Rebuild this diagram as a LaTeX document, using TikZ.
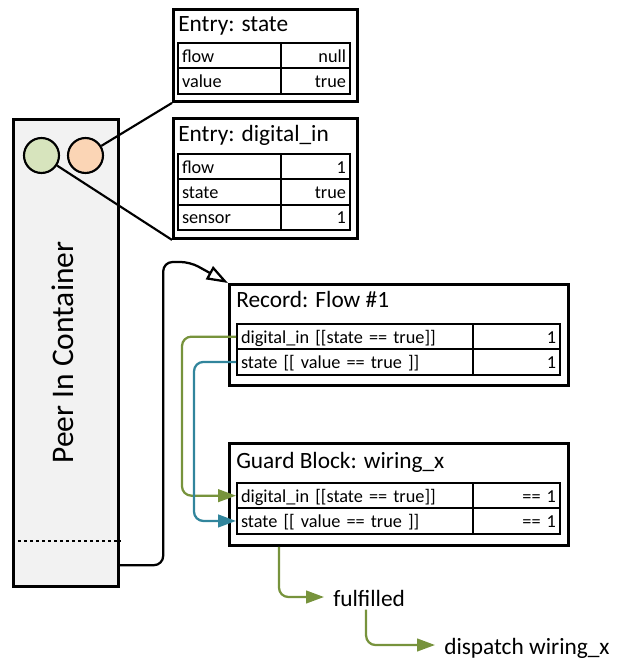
\documentclass[tikz,border=0pt]{standalone}
\usepackage{fontspec}
\setmainfont{Carlito}
\usetikzlibrary{arrows.meta,calc}
\definecolor{garr}{HTML}{77933C}
\definecolor{barr}{HTML}{31859C}
\definecolor{gcirc}{HTML}{D7E4BD}
\definecolor{ocirc}{HTML}{FBD5B5}
\definecolor{peerfill}{HTML}{F2F2F2}
\newcommand{\ttlfont}{\fontsize{17.5}{20}\selectfont}
\newcommand{\tblfont}{\fontsize{13.7}{15}\selectfont}
\begin{document}
\begin{tikzpicture}[x=0.75pt,y=-0.75pt,
  outerbox/.style={draw, line width=2.2pt, anchor=north west, inner sep=0pt},
  ttl/.style={anchor=base west, inner sep=0pt, font=\ttlfont},
  cellbase/.style={draw, line width=1.5pt, anchor=north west, minimum height=19pt, inner xsep=3pt, inner ysep=0pt, text height=11.5pt, text depth=1.75pt, font=\tblfont},
  skey/.style={cellbase, text width=71.25pt, align=left},
  sval/.style={cellbase, text width=45.75pt, align=right},
  bkey/.style={cellbase, text width=171pt, align=left},
  bval/.style={cellbase, text width=59.25pt, align=right},
  dot/.style={circle, draw, line width=1.6pt, minimum size=26.25pt, inner sep=0pt},
  lbl/.style={anchor=west, inner xsep=6.75pt, inner ysep=1pt, text height=15pt, text depth=1.5pt, font=\ttlfont},
  garrow/.style={draw=garr, line width=1.7pt, rounded corners=7pt, -{Triangle[length=13.5pt,width=9.5pt]}},
  barrow/.style={draw=barr, line width=1.7pt, rounded corners=7pt, -{Triangle[length=13.5pt,width=9.5pt]}}
]
\useasboundingbox (0,0) rectangle (624,666);

% Peer container
\node[outerbox, line width=2.4pt, fill=peerfill, minimum width=78.75pt, minimum height=350.25pt] (peer) at (12,118) {};
\draw[line width=1.5pt, dash pattern=on 2.5pt off 2pt] (peer.west |- 0,541) -- (peer.east |- 0,541);
\node[rotate=90, anchor=base, font=\fontsize{23.6}{26}\selectfont, inner sep=0pt] (peertxt) at (73,352.5) {Peer In Container};
\node[dot, fill=gcirc] (gc) at (41.5,155.5) {};
\node[dot, fill=ocirc] (oc) at (85.5,155.5) {};

% Entry: state
\node[outerbox, minimum width=138pt, minimum height=69pt] (estate) at (172,8) {};
\node[ttl] (estatet) at (178,32) {Entry: state};
\node[skey] (es1k) at (177,42) {flow};
\node[sval] (es1v) at (280,42) {null};
\node[skey] (es2k) at (177,67.3) {value};
\node[sval] (es2v) at (280,67.3) {true};

% Entry: digital_in
\node[outerbox, minimum width=138pt, minimum height=90pt] (edig) at (172,117) {};
\node[ttl] (edigt) at (178,142) {Entry: digital\_in};
\node[skey] (ed1k) at (177,153) {flow};
\node[sval] (ed1v) at (280,153) {1};
\node[skey] (ed2k) at (177,178.3) {state};
\node[sval] (ed2v) at (280,178.3) {true};
\node[skey] (ed3k) at (177,203.6) {sensor};
\node[sval] (ed3v) at (280,203.6) {1};

\draw[line width=1.6pt] (oc) -- (estate.south west);
\draw[line width=1.6pt] (gc) -- (edig.south west);

% Record: Flow #1
\node[outerbox, minimum width=254.25pt, minimum height=75.75pt] (record) at (228,283) {};
\node[ttl] (recordt) at (236,307) {Record: Flow \#1};
\node[bkey] (r1k) at (236,323) {digital\_in [[state == true]]};
\node[bval] (r1v) at (472,323) {1};
\node[bkey] (r2k) at (236,348.3) {state [[ value == true ]]};
\node[bval] (r2v) at (472,348.3) {1};

% Guard Block
\node[outerbox, minimum width=254.25pt, minimum height=76.5pt] (guard) at (228,442) {};
\node[ttl] (guardt) at (236,468) {Guard Block: wiring\_x};
\node[bkey] (g1k) at (236,482) {digital\_in [[state == true]]};
\node[bval] (g1v) at (472,482) {== 1};
\node[bkey] (g2k) at (236,507.3) {state [[ value == true ]]};
\node[bval] (g2v) at (472,507.3) {== 1};

% Labels
\node[lbl] (ful) at (324,597) {fulfilled};
\node[lbl] (disp) at (435,645) {dispatch wiring\_x};

% Connectors
\draw[line width=1.7pt, rounded corners=7pt, -{Triangle[open,length=16pt,width=11pt]}]
  ($(peer.south east)+(0,-23)$) -- ++(43,0) |- ($(record.north west)+(-38,-21)$) -- (record.north west);
\draw[garrow] (r1k.west) -- ++(-54,0) |- (g1k.west);
\draw[barrow] (r2k.west) -- ++(-42,0) |- (g2k.west);
\draw[garrow] ($(guard.south west)+(51,0)$) |- (ful.west);
\draw[garrow] ($(ful.south)+(-3,0)$) |- (disp.west);
\end{tikzpicture}
\end{document}
